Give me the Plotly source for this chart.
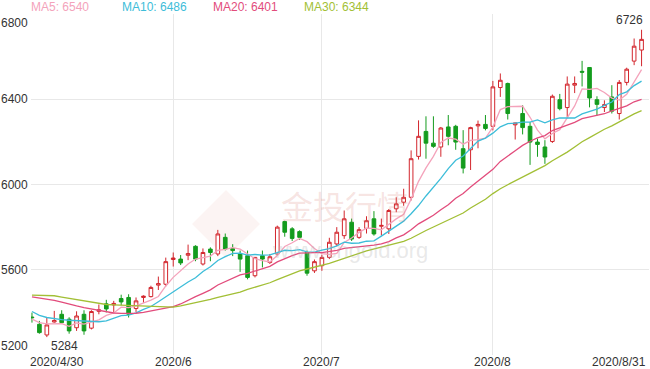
import pandas as pd
import plotly.graph_objects as go

# ---------------- data ----------------
holidays = ["2020-05-01", "2020-05-04", "2020-05-05", "2020-06-25", "2020-06-26"]
dates = [d.strftime("%Y-%m-%d") for d in pd.bdate_range("2020-04-30", "2020-08-31")
         if d.strftime("%Y-%m-%d") not in holidays]

opens = [5378, 5344, 5294, 5355, 5391, 5368, 5328, 5391, 5326, 5405,
         5440, 5435, 5465, 5470, 5418, 5470, 5474, 5528, 5532, 5648,
         5650, 5668, 5710, 5627, 5697, 5674, 5752, 5700, 5674, 5666,
         5572, 5666, 5634, 5674, 5826, 5792, 5779, 5681, 5595, 5619,
         5658, 5721, 5760, 5823, 5752, 5794, 5839, 5804, 5792, 5886,
         5917, 5940, 6132, 6249, 6194, 6176, 6270, 6273, 6168, 6163,
         6275, 6282, 6273, 6455, 6474, 6280, 6333, 6273, 6199, 6176,
         6202, 6398, 6361, 6466, 6531, 6549, 6398, 6361, 6411, 6333,
         6479, 6579, 6631]
highs = [5399, 5360, 5375, 5407, 5410, 5377, 5405, 5410, 5410, 5437,
         5459, 5454, 5483, 5485, 5470, 5480, 5525, 5568, 5657, 5681,
         5669, 5718, 5715, 5700, 5705, 5787, 5770, 5720, 5690, 5690,
         5660, 5690, 5674, 5807, 5830, 5800, 5785, 5690, 5648, 5670,
         5750, 5800, 5878, 5840, 5800, 5851, 5875, 5840, 5885, 5940,
         5980, 6160, 6301, 6320, 6320, 6270, 6326, 6280, 6255, 6271,
         6300, 6326, 6486, 6521, 6478, 6290, 6372, 6293, 6215, 6208,
         6422, 6425, 6507, 6507, 6580, 6550, 6414, 6395, 6466, 6490,
         6548, 6685, 6726]
lows = [5352, 5300, 5284, 5352, 5346, 5300, 5313, 5295, 5320, 5391,
        5400, 5402, 5433, 5376, 5402, 5445, 5470, 5505, 5522, 5615,
        5622, 5645, 5640, 5620, 5640, 5664, 5690, 5664, 5590, 5555,
        5564, 5611, 5627, 5665, 5755, 5735, 5740, 5572, 5585, 5595,
        5650, 5710, 5745, 5735, 5745, 5770, 5760, 5760, 5768, 5870,
        5900, 5925, 6117, 6121, 6172, 6130, 6184, 6163, 6052, 6068,
        6170, 6254, 6254, 6411, 6305, 6211, 6235, 6092, 6130, 6097,
        6195, 6348, 6317, 6429, 6460, 6362, 6324, 6340, 6333, 6305,
        6465, 6560, 6555]
closes = [5375, 5305, 5341, 5362, 5352, 5313, 5383, 5313, 5404, 5412,
          5416, 5442, 5449, 5391, 5454, 5476, 5517, 5535, 5638, 5655,
          5632, 5676, 5650, 5681, 5681, 5768, 5697, 5690, 5650, 5564,
          5658, 5650, 5661, 5800, 5776, 5747, 5752, 5584, 5638, 5658,
          5729, 5776, 5839, 5744, 5788, 5830, 5768, 5808, 5878, 5909,
          5940, 6121, 6226, 6194, 6179, 6265, 6226, 6199, 6077, 6267,
          6282, 6263, 6458, 6489, 6333, 6289, 6267, 6199, 6188, 6129,
          6414, 6356, 6471, 6474, 6527, 6406, 6376, 6375, 6344, 6479,
          6541, 6649, 6681]

# moving-average values visible before each window fills
ma5_head = [5368, 5352, 5346, 5347]
ma10_head = [5404, 5386, 5376, 5370, 5366, 5363, 5361, 5360, 5359]
ma20_head = [5473, 5468, 5462, 5456, 5448, 5438, 5430, 5422, 5415, 5408,
             5401, 5397, 5395, 5394, 5396, 5400, 5406, 5413, 5420]
ma30_head = [5481, 5481, 5480, 5478, 5472, 5466, 5460, 5453, 5446, 5441,
             5437, 5435, 5434, 5433, 5431, 5429, 5427, 5426, 5425, 5425,
             5430, 5437, 5445, 5453, 5461, 5470, 5478, 5486, 5495]

ma_names = ["MA5", "MA10", "MA20", "MA30"]
ma_windows = [5, 10, 20, 30]
ma_latest = [6540, 6486, 6401, 6344]
ma_colors = ["#f4a3bb", "#3dbdd9", "#e24c7c", "#a2bf35"]

y_ticks = [5200, 5600, 6000, 6400, 6800]
x_tick_dates = ["2020-06-01", "2020-07-01", "2020-08-03"]
x_tick_text = ["2020/6", "2020/7", "2020/8"]
first_label, last_label = "2020/4/30", "2020/8/31"
low_label, high_label = "5284", "6726"

# ---------------- figure ----------------
W, H = 650, 369
ML, MR, MT, MB = 31, 1, 14, 14
PW, PH = W - ML - MR, H - MT - MB


def px(xp):
    return (xp - ML) / PW


def py(yp):
    return 1 - (yp - MT) / PH


heads = [ma5_head, ma10_head, ma20_head, ma30_head]
cs = pd.Series(closes)
ma_series = []
for w, head in zip(ma_windows, heads):
    rolled = cs.rolling(w).mean().tolist()
    ma_series.append(head + rolled[w - 1:])

fig = go.Figure()
fig.add_trace(go.Candlestick(
    x=dates, open=opens, high=highs, low=lows, close=closes,
    increasing=dict(line=dict(color="#d3262d", width=1), fillcolor="#ffffff"),
    decreasing=dict(line=dict(color="#149c1e", width=1), fillcolor="#149c1e"),
    whiskerwidth=0, hoverinfo="skip", showlegend=False,
))
for name, vals, col in zip(ma_names, ma_series, ma_colors):
    fig.add_trace(go.Scatter(x=dates, y=vals, mode="lines", name=name,
                             line=dict(color=col, width=1.3), hoverinfo="skip",
                             showlegend=False))

font = "Liberation Sans, Arial, sans-serif"
tick_font = dict(family=font, size=12, color="#333333")
ann = []
# header legend texts
hdr_x = [29, 120, 211, 302]
for name, val, col, xp in zip(ma_names, ma_latest, ma_colors, hdr_x):
    ann.append(dict(xref="paper", yref="paper", x=px(xp), y=py(7), xanchor="left",
                    yanchor="middle", text=f"{name}: {val}", showarrow=False,
                    font=dict(family=font, size=12, color=col)))
# y tick labels
for v in y_ticks:
    anchor = "top" if v == y_ticks[-1] else ("bottom" if v == y_ticks[0] else "middle")
    ann.append(dict(xref="paper", yref="y", x=0, y=v, xanchor="right", yanchor=anchor,
                    xshift=-1, text=str(v), showarrow=False, font=tick_font))
# x tick labels
lab_y = py(361.5)
for d, t in zip(x_tick_dates, x_tick_text):
    ann.append(dict(xref="x", yref="paper", x=d, y=lab_y, yanchor="middle", xanchor="center",
                    text=t, showarrow=False, borderpad=0, font=tick_font))
ann.append(dict(xref="paper", yref="paper", x=px(29), y=lab_y, yanchor="middle",
                xanchor="left", text=first_label, showarrow=False, borderpad=0,
                font=tick_font))
ann.append(dict(xref="paper", yref="paper", x=px(647), y=lab_y, yanchor="middle",
                xanchor="right", text=last_label, showarrow=False, borderpad=0,
                font=tick_font))
# extreme labels
i_low = lows.index(min(lows))
i_high = highs.index(max(highs))
ann.append(dict(xref="x", yref="y", x=dates[i_low], y=min(lows), xanchor="center",
                yanchor="middle", xshift=18, yshift=-9, text=low_label, showarrow=False,
                font=tick_font))
ann.append(dict(xref="x", yref="y", x=dates[i_high], y=max(highs), xanchor="right",
                yanchor="bottom", xshift=3, yshift=1, text=high_label, showarrow=False,
                font=tick_font))
# watermark
ann.append(dict(xref="paper", yref="paper", x=px(345), y=py(205), xanchor="center",
                yanchor="middle", text="金投行情", showarrow=False,
                font=dict(family="Noto Sans CJK SC", size=32, color="rgba(214,120,108,0.2)")))
ann.append(dict(xref="paper", yref="paper", x=px(430), y=py(250), xanchor="right",
                yanchor="middle", text="www.cngold.org", showarrow=False,
                font=dict(family=font, size=22, color="rgba(180,180,180,0.3)")))

shapes = [dict(type="path", xref="paper", yref="paper", layer="below",
               path=f"M {px(226)} {py(190)} L {px(260)} {py(224)} L {px(226)} {py(258)} "
                    f"L {px(192)} {py(224)} Z",
               fillcolor="rgba(228,170,160,0.13)", line=dict(width=0))]

fig.update_layout(
    width=W, height=H, margin=dict(l=ML, r=MR, t=MT, b=MB, pad=0),
    paper_bgcolor="white", plot_bgcolor="white", showlegend=False,
    annotations=ann, shapes=shapes, hovermode=False,
    xaxis=dict(type="category", categoryorder="array", categoryarray=dates,
               range=[-0.13, len(dates) - 0.0], rangeslider=dict(visible=False),
               tickvals=x_tick_dates, showticklabels=False, showgrid=True,
               gridcolor="#e8e8e8", gridwidth=1, zeroline=False, showline=False, ticks=""),
    yaxis=dict(range=[y_ticks[0], y_ticks[-1]], tickvals=y_ticks, showticklabels=False,
               showgrid=True, gridcolor="#e8e8e8", gridwidth=1, zeroline=False,
               showline=False, ticks=""),
)

fig.write_html("out.html", config={"displayModeBar": False},
               post_script="document.body.style.margin='0';document.body.style.overflow='hidden';")
